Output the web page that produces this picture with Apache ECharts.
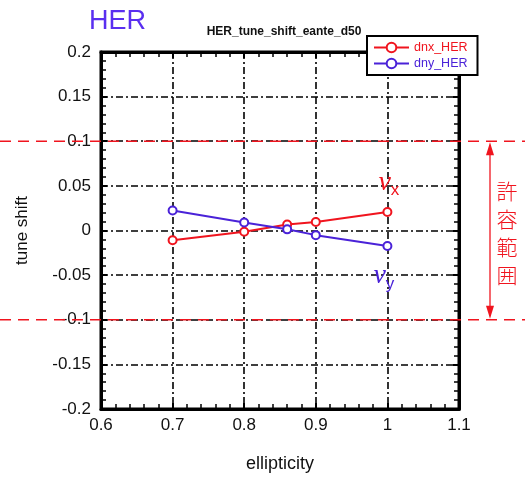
<!DOCTYPE html>
<html>
<head>
<meta charset="utf-8">
<script src="https://cdn.jsdelivr.net/npm/echarts@6/dist/echarts.min.js"></script>
<style>
  html, body { margin: 0; padding: 0; background: #fff; }
  #chart { width: 525px; height: 478px; }
</style>
</head>
<body>
<div id="chart"></div>
<script>
// Ellipticity scan of the HER tune shift
const ellipticity = [0.7, 0.8, 0.86, 0.9, 1.0];
const dnxHER = [-0.011, -0.0015, 0.0066, 0.0096, 0.0207];
const dnyHER = [0.0225, 0.0089, 0.0013, -0.0052, -0.0174];
const allowedLimits = [0.1, -0.1];
const xTicks = { min: 0.6, max: 1.1, step: 0.1 };
const yTicks = { min: -0.2, max: 0.2, step: 0.05 };

const RED = '#f0141e';
const BLUE = '#4a22d8';
const FONT = 'Liberation Sans, Arial, sans-serif';

const chart = echarts.init(document.getElementById('chart'), null, { renderer: 'canvas' });

const pairs = ys => ellipticity.map((x, i) => [x, ys[i]]);

function fmt(v) {
  const r = Math.round(v * 1000) / 1000;
  return String(r);
}

const dashDot = [7, 3, 2, 3];

const xAxisBase = {
  type: 'value', min: xTicks.min, max: xTicks.max, interval: xTicks.step,
  axisLine: { show: true, onZero: false, lineStyle: { color: '#000', width: 3 } },
  axisTick: { show: true, inside: true, length: 6, lineStyle: { color: '#000', width: 2 } },
  minorTick: { show: true, splitNumber: 5, length: 5, lineStyle: { color: '#000', width: 1.5 } }
};
const yAxisBase = {
  type: 'value', min: yTicks.min, max: yTicks.max, interval: yTicks.step,
  axisLine: { show: true, onZero: false, lineStyle: { color: '#000', width: 3 } },
  axisTick: { show: true, inside: true, length: 6, lineStyle: { color: '#000', width: 2 } },
  minorTick: { show: true, splitNumber: 5, length: 5, lineStyle: { color: '#000', width: 1.5 } }
};

chart.setOption({
  animation: false,
  backgroundColor: '#fff',
  textStyle: { fontFamily: FONT },
  title: [
    { text: 'HER', left: 84, top: 3, textStyle: { color: '#5a2ff0', fontSize: 27, fontWeight: 'normal', fontFamily: FONT } },
    { text: 'HER_tune_shift_eante_d50', left: 279, top: 21, textAlign: 'center',
      textStyle: { color: '#111', fontSize: 12, fontWeight: 'bold', fontFamily: FONT } }
  ],
  legend: {
    orient: 'vertical', left: 367, top: 36,
    backgroundColor: '#fff', borderColor: '#000', borderWidth: 2, borderRadius: 0,
    padding: [5, 10, 5, 6], itemGap: 3, itemWidth: 35, itemHeight: 12,
    textStyle: { fontSize: 12.5, fontFamily: FONT },
    data: [
      { name: 'dnx_HER', textStyle: { color: RED } },
      { name: 'dny_HER', textStyle: { color: BLUE } }
    ],
    z: 20
  },
  grid: {
    left: 101, right: 66, top: 52, bottom: 65,
    show: true, borderColor: '#000', borderWidth: 3, backgroundColor: 'transparent'
  },
  xAxis: [
    Object.assign({}, xAxisBase, {
      position: 'bottom',
      name: 'ellipticity', nameLocation: 'middle', nameGap: 46,
      nameTextStyle: { fontSize: 18, color: '#111', fontFamily: FONT },
      axisLabel: { show: true, margin: 8, fontSize: 17, color: '#111', formatter: fmt },
      splitLine: { show: true, lineStyle: { color: '#000', width: 1.6, type: dashDot } }
    }),
    Object.assign({}, xAxisBase, {
      position: 'top', axisLabel: { show: false }, splitLine: { show: false }
    })
  ],
  yAxis: [
    Object.assign({}, yAxisBase, {
      position: 'left',
      name: 'tune shift', nameLocation: 'middle', nameGap: 70,
      nameTextStyle: { fontSize: 17, color: '#111', fontFamily: FONT },
      axisLabel: { show: true, margin: 10, fontSize: 17, color: '#111', formatter: fmt },
      splitLine: { show: true, lineStyle: { color: '#000', width: 1.6, type: dashDot } }
    }),
    Object.assign({}, yAxisBase, {
      position: 'right', axisLabel: { show: false }, splitLine: { show: false }
    })
  ],
  series: [
    {
      name: 'dnx_HER', type: 'line', data: pairs(dnxHER),
      symbol: 'emptyCircle', symbolSize: 8, z: 5,
      lineStyle: { color: RED, width: 2 }, itemStyle: { color: RED, borderWidth: 1.5 }
    },
    {
      name: 'dny_HER', type: 'line', data: pairs(dnyHER),
      symbol: 'emptyCircle', symbolSize: 8, z: 5,
      lineStyle: { color: BLUE, width: 2 }, itemStyle: { color: BLUE, borderWidth: 1.5 }
    }
  ]
});

// Allowed range: red dashed limits across the page, double arrow and label
const yTop = chart.convertToPixel({ yAxisIndex: 0 }, allowedLimits[0]);
const yBot = chart.convertToPixel({ yAxisIndex: 0 }, allowedLimits[1]);
const W = chart.getWidth();
const arrowX = 490;
const graphics = [];
allowedLimits.forEach(v => {
  const y = chart.convertToPixel({ yAxisIndex: 0 }, v);
  graphics.push({
    type: 'line', z: 30, silent: true,
    shape: { x1: 0, y1: y, x2: W, y2: y },
    style: { stroke: RED, lineWidth: 1.6, lineDash: [11, 7] }
  });
});
graphics.push(
  { type: 'line', z: 30, shape: { x1: arrowX, y1: yTop + 6, x2: arrowX, y2: yBot - 6 },
    style: { stroke: RED, lineWidth: 1.3 } },
  { type: 'polygon', z: 30, shape: { points: [[arrowX, yTop + 1], [arrowX - 4, yTop + 14], [arrowX + 4, yTop + 14]] },
    style: { fill: RED } },
  { type: 'polygon', z: 30, shape: { points: [[arrowX, yBot - 1], [arrowX - 4, yBot - 14], [arrowX + 4, yBot - 14]] },
    style: { fill: RED } },
  { type: 'text', z: 30, x: 507, y: (yTop + yBot) / 2 + 3,
    style: { text: '許\n容\n範\n囲', fill: RED, fontSize: 21, lineHeight: 28, fontWeight: 300,
      fontFamily: 'Noto Sans CJK JP', align: 'center', verticalAlign: 'middle' } }
);

// Tune labels beside the curves
const nuX = chart.convertToPixel({ xAxisIndex: 0, yAxisIndex: 0 }, [1.0, 0.05]);
const nuY = chart.convertToPixel({ xAxisIndex: 0, yAxisIndex: 0 }, [1.0, -0.05]);
graphics.push(
  { type: 'text', z: 30, x: nuX[0] - 9, y: nuX[1] - 3,
    style: { text: '{n|ν}{s|x}', fill: RED, align: 'left', verticalAlign: 'middle',
      rich: {
        n: { fontSize: 28, fontStyle: 'italic', fontFamily: 'Liberation Serif', fill: RED },
        s: { fontSize: 17, fontFamily: FONT, fill: RED, padding: [14, 0, 0, 0] }
      } } },
  { type: 'text', z: 30, x: nuY[0] - 14, y: nuY[1] + 1,
    style: { text: '{n|ν}{s|y}', fill: BLUE, align: 'left', verticalAlign: 'middle',
      rich: {
        n: { fontSize: 28, fontStyle: 'italic', fontFamily: 'Liberation Serif', fill: BLUE },
        s: { fontSize: 17, fontFamily: FONT, fill: BLUE, padding: [16, 0, 0, 0] }
      } } }
);
chart.setOption({ graphic: graphics });
</script>
</body>
</html>
